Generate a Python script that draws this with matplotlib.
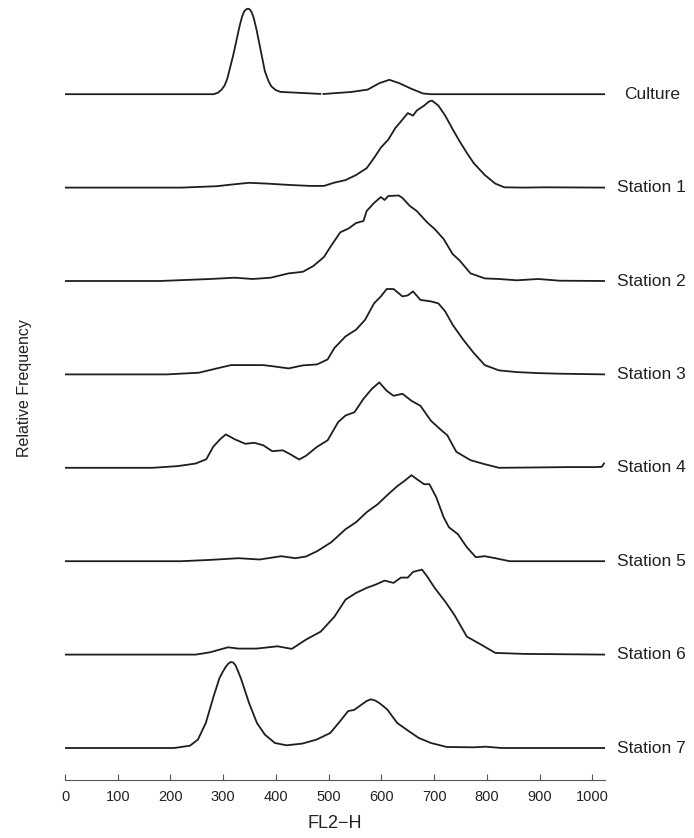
import matplotlib.pyplot as plt
import numpy as np

plt.rcParams['font.family'] = ['Liberation Sans', 'DejaVu Sans']

labels = ['Culture', 'Station 1', 'Station 2', 'Station 3',
          'Station 4', 'Station 5', 'Station 6', 'Station 7']

# channel (FL2-H) and height of each trace
culture_x = [0, 282, 290, 297, 303, 308, 319, 331, 336, 340, 344, 347, 350, 354, 358,
             363, 368, 379, 386, 391, 400, 409, 447, 484,
             487, 490, 544, 574, 596, 615, 634, 656, 679, 694, 1024]
culture_y = [0, 0, 1.5, 4.6, 9, 16, 39, 68, 78, 83, 85, 85.5, 85, 82, 76,
             65, 52, 23, 13, 8, 4, 2.3, 1.3, 0.3,
             np.nan, 0.2, 2.3, 4.6, 11, 14.4, 11, 5.6, 0.7, 0, 0]

st1_x = [0, 221, 288, 315, 349, 383, 424, 464, 491, 511, 532, 552, 572, 586, 599, 613,
         627, 633, 643, 650, 660, 667, 681, 690, 696, 708, 721, 735, 748, 762, 775, 796,
         816, 833, 870, 911, 1024]
st1_y = [0, 0, 1.4, 3, 4.8, 4, 2.7, 1.7, 1.7, 5, 7.5, 12.6, 19.4, 29.6, 40, 48,
         60, 63.6, 70, 74.5, 72, 77, 82, 86, 87, 82, 72, 58.5, 46.6, 34.7, 24.5, 12.6,
         4, 0.3, 0, 0.3, 0]

st2_x = [0, 180, 227, 275, 322, 356, 390, 424, 451, 471, 491, 505, 522, 538, 552, 566,
         572, 586, 599, 606, 613, 633, 640, 654, 667, 687, 701, 718, 735, 748, 769,
         796, 823, 857, 897, 938, 1024]
st2_y = [0, 0, 1, 2, 3.3, 2, 3.3, 7.6, 9.2, 15, 24, 35.5, 48.7, 52.6, 58, 60,
         70, 78, 84, 81, 85, 85.5, 83, 75, 70, 58.5, 52, 42, 27, 20.7, 7.6,
         2.6, 2, 0.7, 2, 0.3, 0]

st3_x = [0, 193, 254, 288, 315, 342, 376, 396, 424, 451, 478, 498, 511, 532, 552, 569,
         586, 599, 610, 623, 640, 650, 660, 674, 694, 708, 721, 735, 755, 775, 796,
         823, 857, 897, 938, 1024]
st3_y = [0, 0, 1.7, 6, 9.3, 9.3, 9.3, 8, 6, 9, 10, 15, 26.5, 38, 44.7, 54.6,
         71, 78, 85.4, 85.4, 78, 79, 83, 74.5, 73, 71, 63, 49.7, 34.8, 21.5, 9.3,
         4, 2.3, 1.3, 0.7, 0]

st4_x = [0, 166, 214, 248, 268, 281, 295, 305, 322, 342, 359, 376, 393, 413, 427, 444,
         457, 478, 498, 518, 532, 549, 566, 582, 596, 610, 623, 640, 657, 674, 694,
         714, 725, 742, 769, 796, 823, 884, 951, 1005, 1018, 1022]
st4_y = [0, 0, 1.7, 4.3, 8.6, 21, 29, 33.4, 28.5, 24, 25, 22.5, 16.6, 17.5, 13.6, 8.3,
         12, 21, 27.5, 45.7, 52.3, 55.6, 69, 79, 85.4, 77, 72, 74, 67, 62, 47,
         37.4, 32.5, 16, 7.6, 3.6, 0, 0.3, 0.7, 0.7, 1, 4.3]

st5_x = [0, 221, 275, 329, 369, 410, 437, 457, 478, 505, 532, 552, 572, 593, 613, 630,
         643, 657, 670, 681, 691, 704, 718, 728, 745, 762, 779, 796, 816, 843, 1024]
st5_y = [0, 0, 1.3, 3, 1.7, 5, 3, 4.7, 10, 19, 32, 39, 49, 57, 67, 75,
         80, 86, 81, 77, 77, 64, 44, 34, 27, 14, 4, 5, 3, 0, 0]

st6_x = [0, 248, 275, 309, 329, 363, 403, 430, 457, 485, 511, 532, 552, 572, 589, 606,
         623, 637, 650, 660, 677, 687, 701, 721, 738, 762, 789, 816, 870, 1024]
st6_y = [0, 0, 2.3, 7.3, 6, 6, 8.3, 5.7, 15, 23, 38, 55, 61.7, 66.7, 70, 74,
         71.7, 77, 77, 82.7, 85, 78, 66.7, 53, 40, 18, 10, 1.7, 0.7, 0]

st7_x = [0, 207, 237, 252, 267, 282, 293, 299, 304, 309, 314, 319, 323, 328, 334, 349,
         364, 379, 398, 420, 450, 477, 503, 522, 537, 548, 563, 572, 580, 588, 596,
         611, 630, 652, 671, 694, 724, 776, 798, 828, 1024]
st7_y = [0, 0, 2.3, 8.4, 25, 52, 70, 76, 80.5, 84, 86, 85.5, 83, 77, 69, 45,
         25, 13.4, 5, 2.7, 4.4, 8.4, 15, 27, 37, 38, 43.6, 47, 48.7, 47.5, 45,
         38.6, 25, 16.8, 10, 5, 1, 0.7, 1.3, 0, 0]

xs = [culture_x, st1_x, st2_x, st3_x, st4_x, st5_x, st6_x, st7_x]
ys = [culture_y, st1_y, st2_y, st3_y, st4_y, st5_y, st6_y, st7_y]

fig = plt.figure(figsize=(6.94, 8.38), dpi=100)
ax = fig.add_axes([65 / 694, 58 / 838, 540 / 694, 780 / 838])

step = 93.4
n = len(labels)
for i in range(n):
    base = 32 + step * (n - 1 - i)
    ax.plot(xs[i], np.array(ys[i]) + base, color='#1e1e1e', lw=1.3)
    lx = 1060 if labels[i] == 'Culture' else 1047
    ax.text(lx, base, labels[i], fontsize=12.5, va='center', ha='left',
            color='#222222', clip_on=False)

ax.set_xlim(0, 1024)
ax.set_ylim(0, 780)
for s in ['top', 'right', 'left']:
    ax.spines[s].set_visible(False)
ax.spines['bottom'].set_color('#555555')
ax.set_yticks([])
ax.set_xticks(range(0, 1001, 100))
ax.tick_params(axis='x', direction='in', length=4, color='#555555',
               labelsize=10.5, pad=7, labelcolor='#222222')
ax.set_xlabel('FL2\u2212H', fontsize=13, color='#222222', labelpad=8)
fig.text(24 / 694, 1 - 388 / 838, 'Relative Frequency', rotation=90,
         fontsize=11.5, ha='center', va='center', color='#222222')

fig.savefig('out.png', dpi=100)
